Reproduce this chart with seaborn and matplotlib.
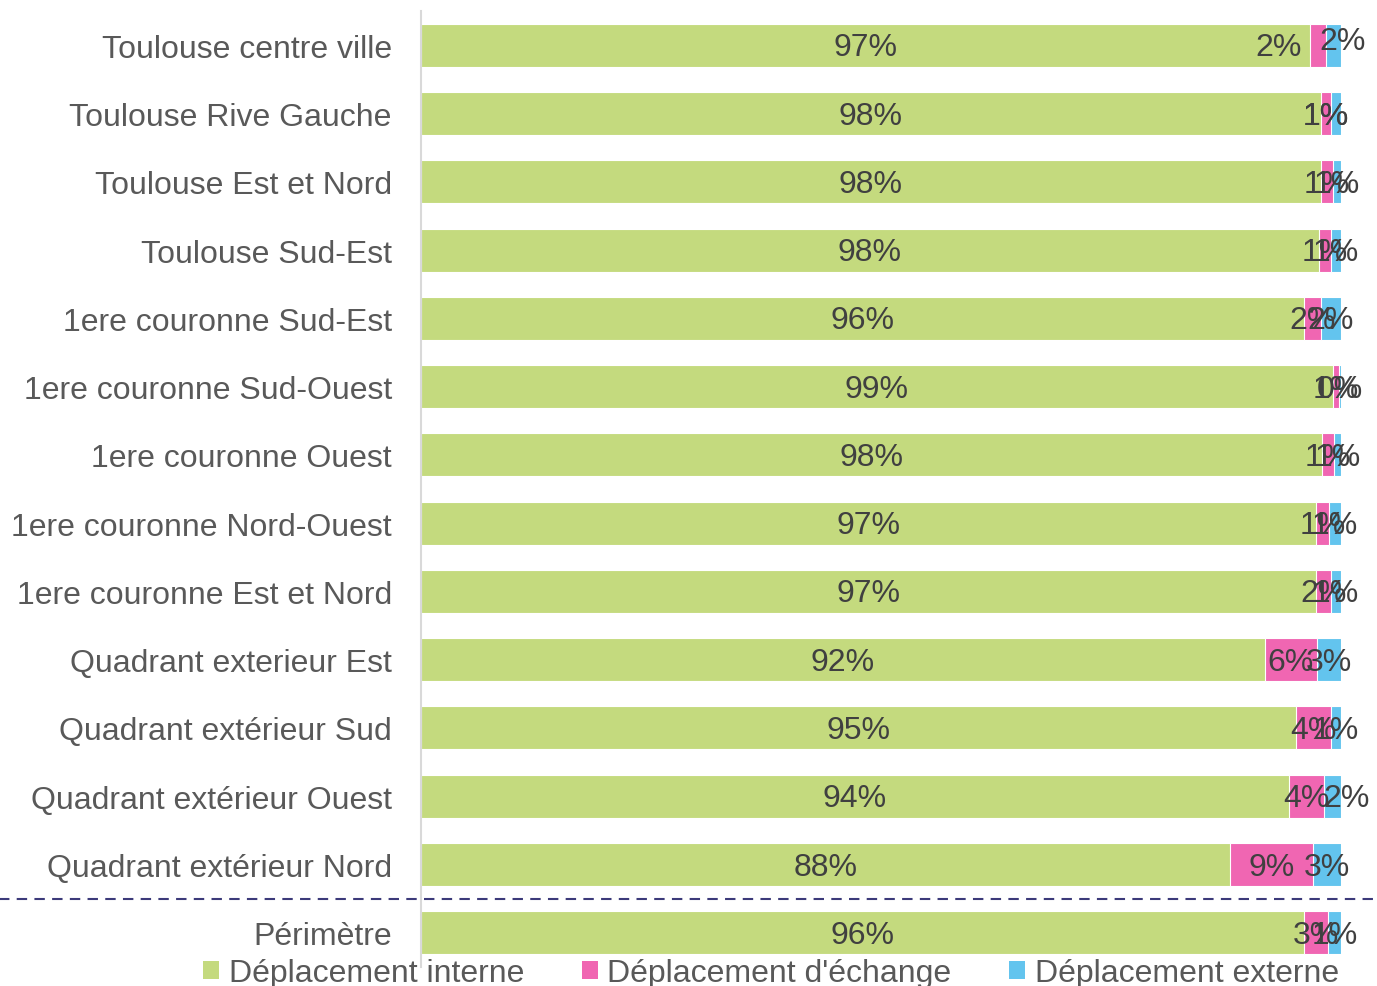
import numpy as np
import pandas as pd
import seaborn as sns
import matplotlib.pyplot as plt
from matplotlib.patches import Patch

sns.set_style("white")
plt.rcParams['font.family'] = ['Liberation Sans', 'DejaVu Sans']

# données (parts en %)
secteurs = ['Toulouse centre ville', 'Toulouse Rive Gauche', 'Toulouse Est et Nord',
            'Toulouse Sud-Est', '1ere couronne Sud-Est', '1ere couronne Sud-Ouest',
            '1ere couronne Ouest', '1ere couronne Nord-Ouest', '1ere couronne Est et Nord',
            'Quadrant exterieur Est', 'Quadrant extérieur Sud', 'Quadrant extérieur Ouest',
            'Quadrant extérieur Nord', 'Périmètre']
interne = [96.6, 97.8, 97.8, 97.6, 96.0, 99.1, 97.9, 97.3, 97.3, 91.7, 95.1, 94.3, 87.9, 96.0]
echange = [1.8, 1.1, 1.3, 1.3, 1.8, 0.7, 1.3, 1.4, 1.6, 5.7, 3.8, 3.8, 9.1, 2.6]
externe = [1.6, 1.1, 0.9, 1.1, 2.2, 0.2, 0.8, 1.3, 1.1, 2.6, 1.1, 1.9, 3.0, 1.4]
series = ['Déplacement interne', "Déplacement d'échange", 'Déplacement externe']

c_int = '#C4DA7E'
c_ech = '#F066B2'
c_ext = '#63C4EE'
gris = '#595959'
fs = 23

df = pd.DataFrame({'secteur': secteurs, 'interne': interne, 'echange': echange, 'externe': externe})
df['cum_ech'] = df['interne'] + df['echange']
df['cum_ext'] = df['cum_ech'] + df['externe']

fig = plt.figure(figsize=(13.77, 9.87), dpi=100)
ax = fig.add_axes([0.3057, 0.0193, 0.9739 - 0.3057, 0.9878 - 0.0193])

# barres empilées : on dessine les cumuls du plus long au plus court
sns.barplot(data=df, x='cum_ext', y='secteur', color=c_ext, width=0.63,
            saturation=1, edgecolor='white', linewidth=0.8, ax=ax)
sns.barplot(data=df, x='cum_ech', y='secteur', color=c_ech, width=0.63,
            saturation=1, edgecolor='white', linewidth=0.8, ax=ax)
sns.barplot(data=df, x='interne', y='secteur', color=c_int, width=0.63,
            saturation=1, edgecolor='white', linewidth=0.8, ax=ax)

# quelques étiquettes déplacées à la main dans l'original (dx en %, dy en rangée)
decal = {(0, 1): (-4.3, 0), (0, 2): (1.0, -0.09), (1, 2): (-1.1, 0), (11, 2): (1.5, 0)}

# étiquettes de données centrées sur chaque segment
for i, r in df.iterrows():
    starts = [0, r['interne'], r['cum_ech']]
    vals = [r['interne'], r['echange'], r['externe']]
    for k, (s, v) in enumerate(zip(starts, vals)):
        dx, dy = decal.get((i, k), (0, 0))
        ax.text(s + v / 2 + dx, i + 0.03 + dy, f'{v:.0f}%', ha='center', va='center',
                fontsize=fs, color='#404040', clip_on=False)

ax.set_xlim(0, 100)
ax.set_ylim(len(secteurs) - 0.5, -0.5)
ax.set_xlabel('')
ax.set_ylabel('')
ax.set_xticks([])
ax.tick_params(axis='y', length=0, labelsize=fs, labelcolor=gris, pad=21)
ax.set_yticks(np.arange(len(secteurs)) - 0.5, minor=True)
ax.tick_params(axis='y', which='minor', length=8, color='#D9D9D9', width=1.5)
for sp in ['top', 'right', 'bottom']:
    ax.spines[sp].set_visible(False)
ax.spines['left'].set_color('#D9D9D9')
ax.spines['left'].set_linewidth(1.5)

# séparation pointillée avant le périmètre
ax.axhline(len(secteurs) - 1.5, xmin=-0.46, xmax=1.06, color='#3C3A7A',
           linestyle=(0, (5, 3.5)), linewidth=1.5, clip_on=False)

handles = [Patch(facecolor=c, edgecolor='none') for c in [c_int, c_ech, c_ext]]
fig.legend(handles, series, loc='center', bbox_to_anchor=(0.56, 0.013), ncol=3,
           frameon=False, fontsize=fs, labelcolor=gris, handlelength=0.5,
           handleheight=0.5, handletextpad=0.3, columnspacing=1.8, borderpad=0)

fig.savefig('out.png', dpi=100)
